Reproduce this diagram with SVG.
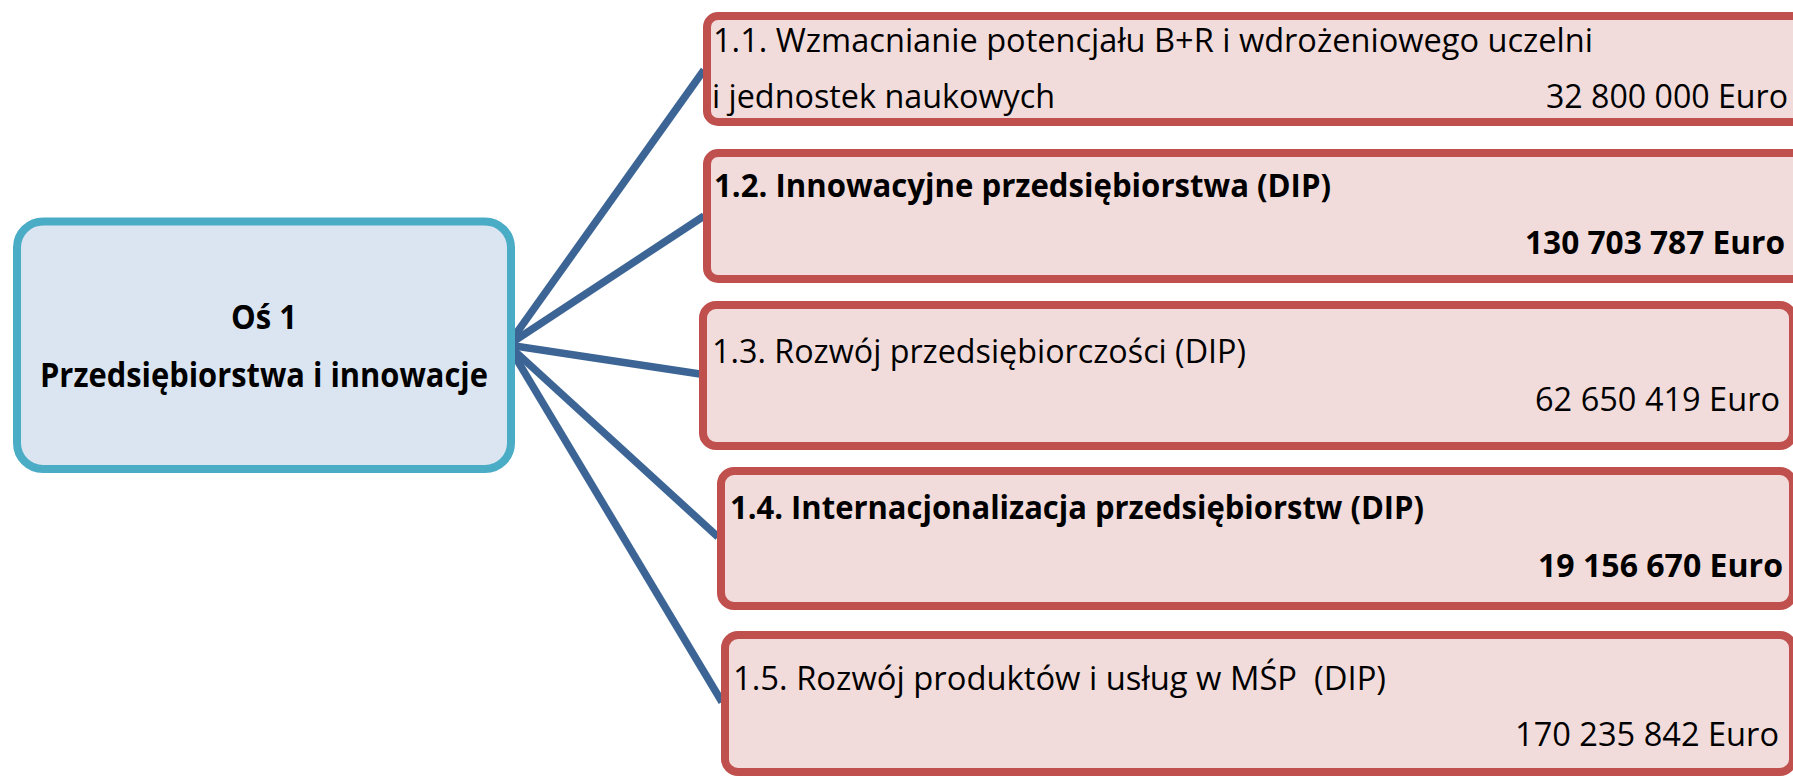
<svg xmlns="http://www.w3.org/2000/svg" width="1793" height="778" viewBox="0 0 1793 778">
<style>
.sub{fill:#F2DCDB;stroke:#C0504D;stroke-width:8}
.main{fill:#DBE5F1;stroke:#4BACC6;stroke-width:8}
.conn line{stroke:#3C6596;stroke-width:7.5;stroke-linecap:butt}
text{font-family:"Open Sans","Liberation Sans",sans-serif;fill:#000;white-space:pre}
.r{font-size:33px;font-weight:400}
.b{font-size:33px;font-weight:700}
.c{font-size:33.5px;font-weight:700}
</style>
<rect width="1793" height="778" fill="#FFFFFF"/>
<g id="connectors" class="conn">
<line x1="508" y1="345" x2="704" y2="70"/>
<line x1="508" y1="345" x2="704" y2="216"/>
<line x1="508" y1="345" x2="700" y2="374"/>
<line x1="508" y1="345" x2="718" y2="537"/>
<line x1="508" y1="345" x2="722" y2="702"/>
</g>
<g id="node-os1">
<rect class="main" x="17" y="221.5" width="494" height="247.5" rx="26" ry="26"/>
<text class="c" x="264" y="329" text-anchor="middle" textLength="66" lengthAdjust="spacingAndGlyphs">Oś 1</text>
<text class="c" x="264" y="386.5" text-anchor="middle" textLength="448" lengthAdjust="spacingAndGlyphs">Przedsiębiorstwa i innowacje</text>
</g>
<g id="node-1-1">
<rect class="sub" x="707" y="16" width="1110" height="106" rx="11" ry="11"/>
<text class="r" x="713" y="52" textLength="880" lengthAdjust="spacingAndGlyphs">1.1. Wzmacnianie potencjału B+R i wdrożeniowego uczelni</text>
<text class="r" x="712" y="108" textLength="343" lengthAdjust="spacingAndGlyphs">i jednostek naukowych</text>
<text class="r" x="1788" y="108" text-anchor="end" textLength="242" lengthAdjust="spacingAndGlyphs">32 800 000 Euro</text>
</g>
<g id="node-1-2">
<rect class="sub" x="707" y="153" width="1110" height="126" rx="11" ry="11"/>
<text class="b" x="714" y="197" textLength="617" lengthAdjust="spacingAndGlyphs">1.2. Innowacyjne przedsiębiorstwa (DIP)</text>
<text class="b" x="1785" y="254" text-anchor="end" textLength="260" lengthAdjust="spacingAndGlyphs">130 703 787 Euro</text>
</g>
<g id="node-1-3">
<rect class="sub" x="703" y="305" width="1090" height="141" rx="13" ry="13"/>
<text class="r" x="712" y="363" textLength="534" lengthAdjust="spacingAndGlyphs">1.3. Rozwój przedsiębiorczości (DIP)</text>
<text class="r" x="1780" y="411" text-anchor="end" textLength="245" lengthAdjust="spacingAndGlyphs">62 650 419 Euro</text>
</g>
<g id="node-1-4">
<rect class="sub" x="721" y="471" width="1072" height="135" rx="13" ry="13"/>
<text class="b" x="730" y="519" textLength="694" lengthAdjust="spacingAndGlyphs">1.4. Internacjonalizacja przedsiębiorstw (DIP)</text>
<text class="b" x="1783" y="577" text-anchor="end" textLength="245" lengthAdjust="spacingAndGlyphs">19 156 670 Euro</text>
</g>
<g id="node-1-5">
<rect class="sub" x="725" y="635" width="1068" height="137" rx="13" ry="13"/>
<text class="r" x="733" y="690" textLength="653" lengthAdjust="spacingAndGlyphs">1.5. Rozwój produktów i usług w MŚP  (DIP)</text>
<text class="r" x="1779" y="746" text-anchor="end" textLength="264" lengthAdjust="spacingAndGlyphs">170 235 842 Euro</text>
</g>
</svg>
